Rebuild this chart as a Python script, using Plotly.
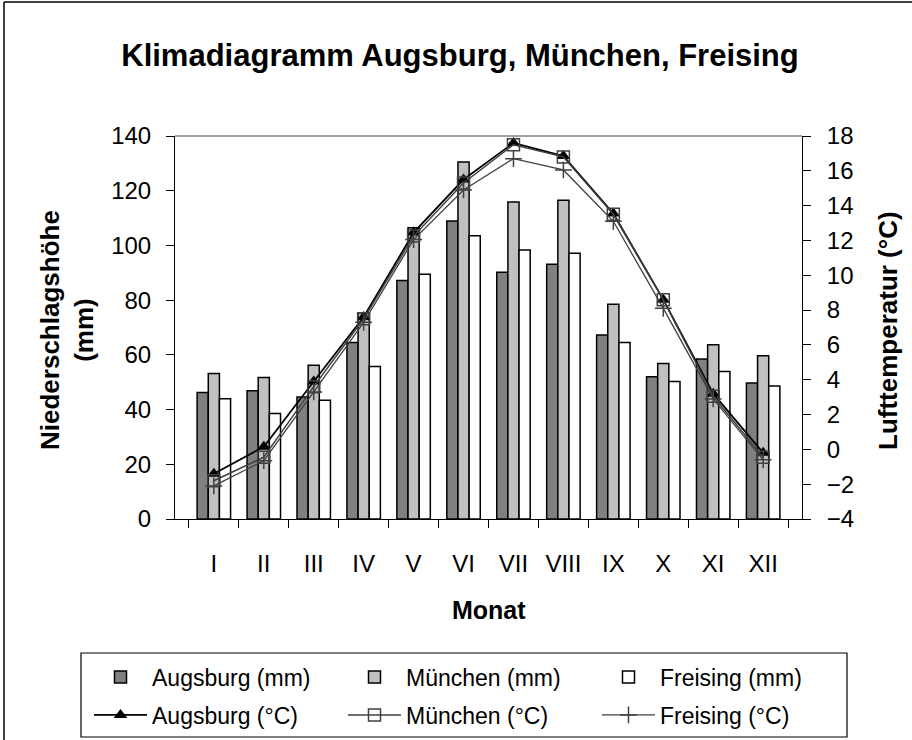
import plotly.graph_objects as go

months = ["I", "II", "III", "IV", "V", "VI", "VII", "VIII", "IX", "X", "XI", "XII"]

augsburg_mm = [46.2, 46.9, 44.6, 64.5, 87.2, 108.9, 90.2, 93.1, 67.3, 52.0, 58.5, 49.7]
muenchen_mm = [53.2, 51.7, 56.2, 75.4, 106.5, 130.5, 115.9, 116.5, 78.5, 56.8, 63.7, 59.7]
freising_mm = [44.0, 38.6, 43.4, 55.7, 89.5, 103.5, 98.3, 97.1, 64.5, 50.3, 53.9, 48.6]

augsburg_c = [-1.4, 0.15, 3.9, 7.6, 12.45, 15.5, 17.6, 16.85, 13.55, 8.6, 3.2, -0.2]
muenchen_c = [-1.8, -0.45, 3.6, 7.5, 12.25, 15.3, 17.5, 16.8, 13.5, 8.6, 3.05, -0.45]
freising_c = [-2.1, -0.65, 3.3, 7.3, 12.05, 14.9, 16.7, 16.05, 13.1, 8.1, 2.9, -0.6]

FONT = "Arial, 'Liberation Sans', sans-serif"
W, H = 912, 740
L, R, T, B = 175, 110, 136, 221
PW, PH = W - L - R, H - T - B


def px_x(p):
    return (p - L) / PW


def px_y(p):
    return (H - B - p) / PH


fig = go.Figure()
bar_line = dict(color="black", width=1.5)
fig.add_trace(go.Bar(x=months, y=augsburg_mm, name="Augsburg (mm)",
                     marker=dict(color="#808080", line=bar_line), legend="legend"))
fig.add_trace(go.Bar(x=months, y=muenchen_mm, name="München (mm)",
                     marker=dict(color="#c0c0c0", line=bar_line), legend="legend"))
fig.add_trace(go.Bar(x=months, y=freising_mm, name="Freising (mm)",
                     marker=dict(color="#ffffff", line=bar_line), legend="legend"))

fig.add_trace(go.Scatter(x=months, y=augsburg_c, name="Augsburg (°C)", yaxis="y2",
                         mode="lines+markers", line=dict(color="black", width=1.8),
                         marker=dict(symbol="triangle-up", size=12, color="black"),
                         legend="legend2"))
fig.add_trace(go.Scatter(x=months, y=muenchen_c, name="München (°C)", yaxis="y2",
                         mode="lines+markers", line=dict(color="#404040", width=1.5),
                         marker=dict(symbol="square-open", size=12, color="#404040",
                                     line=dict(width=1.5)),
                         legend="legend2"))
fig.add_trace(go.Scatter(x=months, y=freising_c, name="Freising (°C)", yaxis="y2",
                         mode="lines+markers", line=dict(color="#404040", width=1.3),
                         marker=dict(symbol="cross-thin", size=12, color="#404040",
                                     line=dict(width=1.5, color="#404040")),
                         legend="legend2"))

axis_common = dict(showgrid=False, zeroline=False, showline=True, linecolor="black",
                   linewidth=1, ticks="outside", ticklen=8, tickcolor="black",
                   tickfont=dict(family=FONT, size=24, color="black"))

shapes = [
    # outer chart frame (only left and top edges are within the picture)
    dict(type="line", xref="paper", yref="paper",
         x0=px_x(4), x1=px_x(4), y0=px_y(740), y1=px_y(2),
         line=dict(color="black", width=1.5)),
    dict(type="line", xref="paper", yref="paper",
         x0=px_x(4), x1=px_x(912), y0=px_y(2), y1=px_y(2),
         line=dict(color="black", width=1.5)),
    # top border of plot area
    dict(type="line", xref="paper", yref="paper", x0=0, x1=1, y0=1, y1=1,
         line=dict(color="#808080", width=1.5)),
    # legend box
    dict(type="rect", xref="paper", yref="paper",
         x0=px_x(81), x1=px_x(847), y0=px_y(737), y1=px_y(653),
         line=dict(color="black", width=1.2), fillcolor="rgba(0,0,0,0)"),
]

annotations = [
    dict(text="<b>Monat</b>", xref="paper", yref="paper", x=0.5, y=px_y(610),
         showarrow=False, xanchor="center", yanchor="middle",
         font=dict(family=FONT, size=25, color="black")),
    dict(text="<b>Niederschlagshöhe<br>(mm)</b>", xref="paper", yref="paper",
         x=px_x(67), y=px_y(330), textangle=-90, showarrow=False,
         xanchor="center", yanchor="middle",
         font=dict(family=FONT, size=26, color="black")),
    dict(text="<b>Lufttemperatur (°C)</b>", xref="paper", yref="paper",
         x=px_x(888), y=px_y(330), textangle=-90, showarrow=False,
         xanchor="center", yanchor="middle",
         font=dict(family=FONT, size=26, color="black")),
]

legend_common = dict(orientation="h", xanchor="left", yanchor="middle",
                     bgcolor="rgba(0,0,0,0)", borderwidth=0,
                     font=dict(family=FONT, size=23, color="black"),
                     itemwidth=53,
                     entrywidth=186, entrywidthmode="pixels")

fig.update_layout(
    width=W, height=H,
    margin=dict(l=L, r=R, t=T, b=B, pad=0, autoexpand=False),
    paper_bgcolor="white", plot_bgcolor="white",
    title=dict(text="<b>Klimadiagramm Augsburg, München, Freising</b>",
               x=460 / W, xref="container", xanchor="center",
               y=1 - 55 / H, yref="container", yanchor="middle",
               font=dict(family=FONT, size=31, color="black")),
    barmode="group", bargap=0.33, bargroupgap=0,
    xaxis=dict(axis_common, type="category", tickson="boundaries",
               ticklabelstandoff=23),
    yaxis=dict(axis_common, range=[0, 140], tickmode="linear", tick0=0, dtick=20,
               ticklabelstandoff=10),
    yaxis2=dict(axis_common, range=[-4, 18], tickmode="linear", tick0=-4, dtick=2,
                overlaying="y", side="right", anchor="x", ticklabelstandoff=11),
    legend=dict(legend_common, x=px_x(89), y=px_y(677)),
    legend2=dict(legend_common, x=px_x(89), y=px_y(715)),
    shapes=shapes,
    annotations=annotations,
)

fig.write_html("out.html", config={"displayModeBar": False},
               post_script="document.body.style.margin='0px';")
